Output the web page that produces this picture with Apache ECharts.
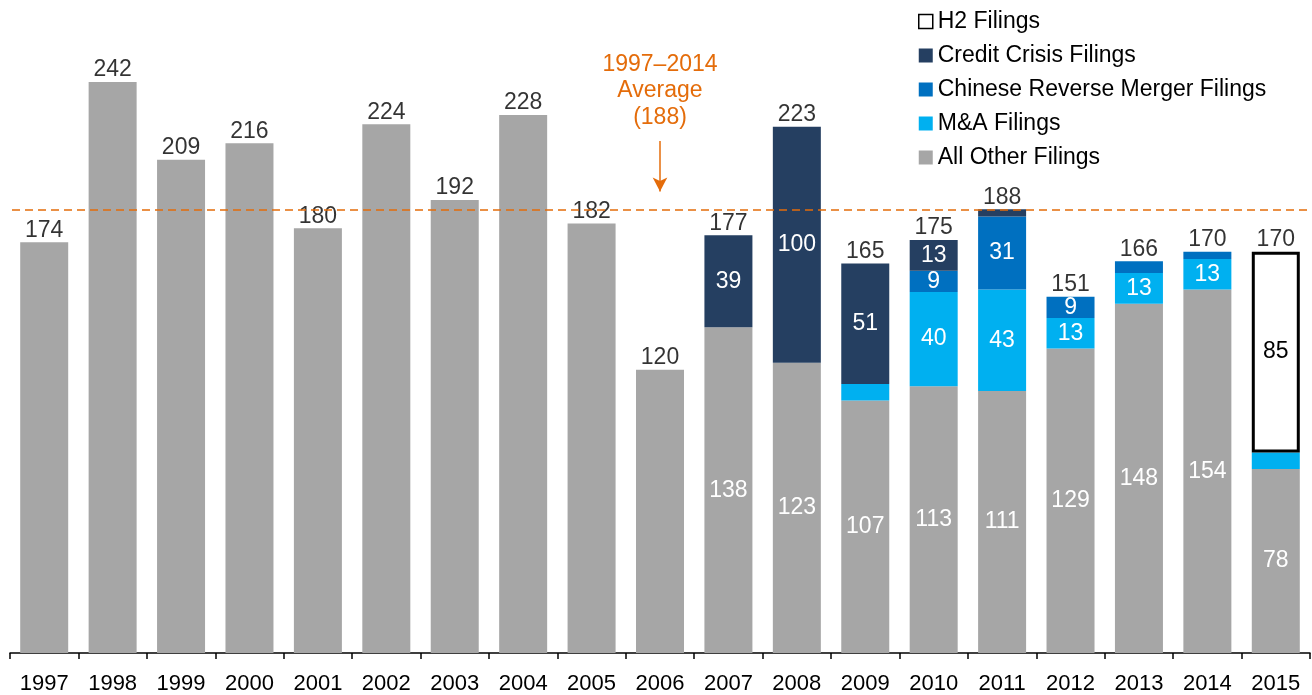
<!DOCTYPE html>
<html>
<head>
<meta charset="utf-8">
<script src="https://cdn.jsdelivr.net/npm/echarts@6/dist/echarts.min.js"></script>
<style>
  html, body { margin: 0; padding: 0; background: #fff; }
  #myEchart { width: 1312px; height: 695px; }
</style>
</head>
<body>
<div id="myEchart"></div>
<script>
var years = ['1997', '1998', '1999', '2000', '2001', '2002', '2003', '2004', '2005', '2006',
    '2007', '2008', '2009', '2010', '2011', '2012', '2013', '2014', '2015'];
var allOther = [174, 242, 209, 216, 180, 224, 192, 228, 182, 120, 138, 123, 107, 113, 111, 129, 148, 154, 78];
var mna = [0, 0, 0, 0, 0, 0, 0, 0, 0, 0, 0, 0, 7, 40, 43, 13, 13, 13, 7];
var chinese = [0, 0, 0, 0, 0, 0, 0, 0, 0, 0, 0, 0, 0, 9, 31, 9, 5, 3, 0];
var credit = [0, 0, 0, 0, 0, 0, 0, 0, 0, 0, 39, 100, 51, 13, 3, 0, 0, 0, 0];
var h2 = [0, 0, 0, 0, 0, 0, 0, 0, 0, 0, 0, 0, 0, 0, 0, 0, 0, 0, 85];
var average = 188;
var avgText = '1997\u20132014\nAverage\n(188)';

var font = 'Arial, "Liberation Sans", sans-serif';
var totals = years.map(function(y, i) {
    return allOther[i] + mna[i] + chinese[i] + credit[i] + h2[i];
});

// only label segments that are big enough, and grey only when stacked
function items(arr, isBase) {
    return arr.map(function(v, i) {
        var show = v >= 9;
        if (isBase) show = totals[i] !== v;
        return { value: v, label: { show: show } };
    });
}

function segment(name, arr, color, isBase) {
    return {
        name: name,
        type: 'bar',
        stack: 'all',
        barWidth: 48,
        itemStyle: { color: color },
        label: {
            position: 'inside',
            color: '#fff',
            fontSize: 23,
            fontFamily: font,
            formatter: function(p) { return p.value; }
        },
        data: items(arr, isBase)
    };
}

var orange = '#E46C0A';
var myChart = echarts.init(document.getElementById('myEchart'));

var h2Data = items(h2).map(function(d) {
    // no border on empty bars, otherwise they show as black lines
    d.itemStyle = { borderWidth: d.value > 0 ? 3 : 0 };
    return d;
});

myChart.setOption({
    animation: false,
    textStyle: { fontFamily: font },
    grid: { left: 10, right: 2, top: 4, bottom: 36 },
    legend: {
        orient: 'vertical',
        left: 913,
        top: 5,
        icon: 'rect',
        itemWidth: 14,
        itemHeight: 14,
        itemGap: 11,
        textStyle: { fontSize: 23, color: '#000', fontFamily: font },
        data: [
            { name: 'H2 Filings', itemStyle: { color: '#fff', borderColor: '#000', borderWidth: 1.5 } },
            'Credit Crisis Filings',
            'Chinese Reverse Merger Filings',
            'M&A Filings',
            'All Other Filings'
        ]
    },
    xAxis: {
        type: 'category',
        data: years,
        axisLine: { show: true, lineStyle: { color: '#000', width: 1.5 } },
        axisTick: { show: true, alignWithLabel: false, interval: 0, length: 6, lineStyle: { color: '#000', width: 1.5 } },
        axisLabel: { color: '#000', fontSize: 22, margin: 20, fontFamily: font }
    },
    yAxis: {
        type: 'value',
        min: 0,
        max: 275,
        show: false,
        splitLine: { show: false }
    },
    series: [
        segment('All Other Filings', allOther, '#A6A6A6', true),
        segment('M&A Filings', mna, '#00B0F0'),
        segment('Chinese Reverse Merger Filings', chinese, '#0070C0'),
        segment('Credit Crisis Filings', credit, '#253F61'),
        {
            name: 'H2 Filings',
            type: 'bar',
            stack: 'all',
            barWidth: 48,
            itemStyle: { color: '#fff', borderColor: '#000', borderWidth: 3 },
            label: {
                position: 'inside',
                color: '#000',
                fontSize: 23,
                fontFamily: font,
                formatter: function(p) { return p.value; }
            },
            data: h2Data
        },
        {
            name: 'totals',
            type: 'scatter',
            symbolSize: 1,
            itemStyle: { color: 'rgba(0,0,0,0)' },
            label: {
                show: true,
                position: 'top',
                distance: 0,
                color: '#000',
                fontSize: 23,
                fontFamily: font
            },
            data: totals,
            markLine: {
                silent: true,
                symbol: 'none',
                data: [
                    [
                        { xAxis: 0, yAxis: average, x: 12, lineStyle: { color: orange, width: 1.5, type: [8, 5] }, label: { show: false } },
                        { x: 1310, yAxis: average }
                    ],
                    [
                        {
                            coord: ['2006', 217],
                            symbol: 'none',
                            lineStyle: { color: orange, width: 1.5, type: 'solid' },
                            label: {
                                show: true,
                                position: 'start',
                                distance: 10,
                                formatter: avgText,
                                color: orange,
                                fontSize: 23,
                                lineHeight: 26.5,
                                fontFamily: font
                            }
                        },
                        { coord: ['2006', 195.5], symbol: 'arrow', symbolSize: [11, 14] }
                    ]
                ]
            }
        }
    ]
});
</script>
</body>
</html>
